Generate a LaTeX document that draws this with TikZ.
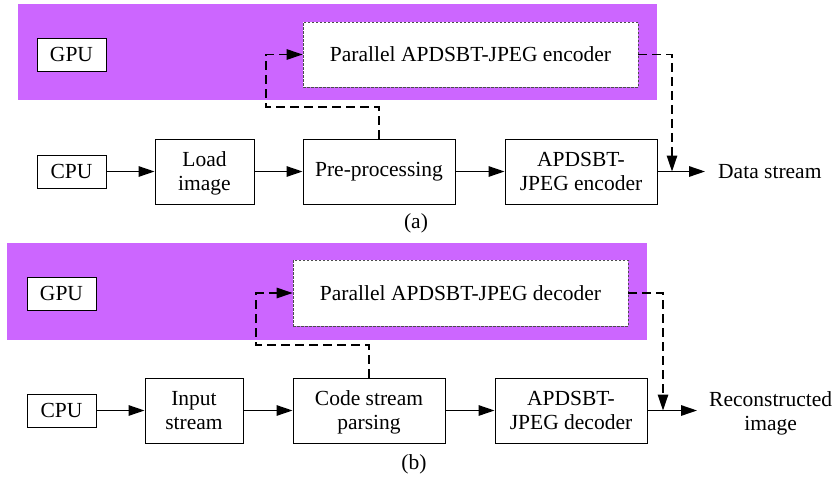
\documentclass[tikz,border=0pt]{standalone}
\usepackage{fontspec}
\setmainfont{Liberation Serif}
\usetikzlibrary{arrows.meta}
\definecolor{gpupurple}{RGB}{204,102,255}
\tikzset{
  box/.style={draw=black, line width=1pt, fill=white, align=center, inner sep=0pt,
    font=\fontsize{21.5}{24}\selectfont},
  smallbox/.style={box, minimum width=69pt, minimum height=33pt},
  bigbox/.style={box, minimum height=65pt},
  twoline/.style={text height=41.7pt, text depth=4.7pt},
  parbox/.style={box, draw=black!70, line width=0.8pt, dash pattern=on 2.5pt off 1.5pt,
    minimum width=335pt, minimum height=65pt},
  txt/.style={align=center, inner sep=0pt, font=\fontsize{21.5}{24}\selectfont},
  flow/.style={line width=1.4pt, -{Triangle[length=16pt,width=10.5pt]}},
  dflow/.style={line width=1.3pt, dash pattern=on 9pt off 5pt, -{Triangle[length=16pt,width=10.5pt]}},
  panel/.style={fill=gpupurple, draw=none}
}
\begin{document}
\begin{tikzpicture}[x=1pt,y=-1pt]
\useasboundingbox (0,0) rectangle (835,479);
\fill[white] (0,0) rectangle (835,479);
% ---------- (a)
\fill[panel] (18,4) rectangle (657,100);
\node[smallbox] (gpuA) at (71.5,54.5) {GPU};
\node[parbox] (parA) at (470.5,54.5) {Parallel APDSBT-JPEG encoder};
\node[smallbox] (cpuA) at (71.5,171.5) {CPU};
\node[bigbox, twoline, minimum width=99pt] (loadA) at (204.5,171.5) {Load\\image};
\node[bigbox, minimum width=152pt] (preA) at (379,171.5) {Pre-processing};
\node[bigbox, twoline, minimum width=152pt] (encA) at (581,171.5) {APDSBT-\\JPEG encoder};
\node[txt, anchor=west, inner xsep=13pt] (dsA) at (705,171.5) {Data stream};
\node[txt] (capA) at (416,223) {(a)};
\coordinate (cA1) at (266,107);
\coordinate (cA2) at (672,171.5);
\draw[flow] (cpuA) -- (loadA);
\draw[flow] (loadA) -- (preA);
\draw[flow] (preA) -- (encA);
\draw[flow] (encA) -- (dsA.west);
\draw[dflow] (preA.north) |- (cA1) |- (parA.west);
\draw[dflow] (parA.east) -| (cA2);
% ---------- (b)
\fill[panel] (7,243) rectangle (647,340);
\node[smallbox] (gpuB) at (61.5,293.5) {GPU};
\node[parbox, minimum height=66pt] (parB) at (460.5,293) {Parallel APDSBT-JPEG decoder};
\node[smallbox] (cpuB) at (61.5,410.5) {CPU};
\node[bigbox, twoline, minimum width=98pt] (inB) at (194,410.5) {Input\\stream};
\node[bigbox, twoline, minimum width=152pt] (codeB) at (369,410.5) {Code stream\\parsing};
\node[bigbox, twoline, minimum width=152pt] (decB) at (571,410.5) {APDSBT-\\JPEG decoder};
\node[txt, anchor=west, inner xsep=12pt, text height=43.7pt, text depth=4.7pt] (riB) at (697,410.5) {Reconstructed\\image};
\node[txt] (capB) at (414,464) {(b)};
\coordinate (cB1) at (256,345);
\coordinate (cB2) at (663,410.5);
\draw[flow] (cpuB) -- (inB);
\draw[flow] (inB) -- (codeB);
\draw[flow] (codeB) -- (decB);
\draw[flow] (decB) -- (riB.west);
\draw[dflow] (codeB.north) |- (cB1) |- (parB.west);
\draw[dflow] (parB.east) -| (cB2);
\end{tikzpicture}
\end{document}
